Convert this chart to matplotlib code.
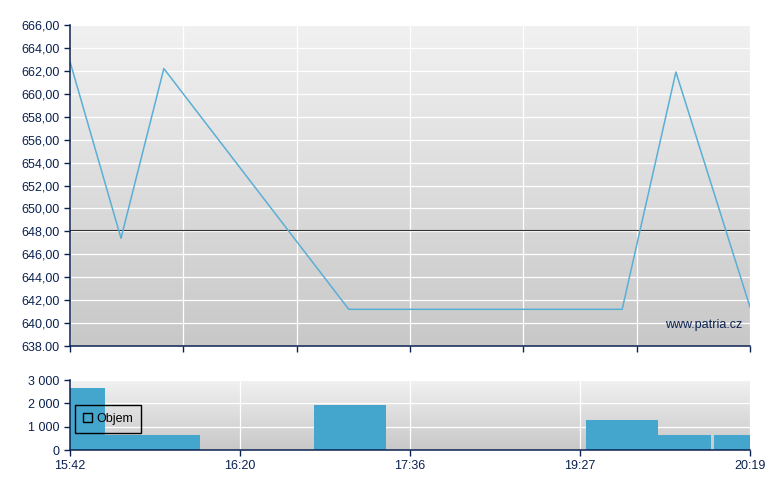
import numpy as np
from matplotlib import pyplot as plt
from matplotlib.patches import Patch
from matplotlib.colors import LinearSegmentedColormap

plt.rcParams['font.family'] = ['Liberation Sans', 'DejaVu Sans']

# x positions on a 0-100 session scale (chart is not linear in clock time)
priceX = [0, 7.5, 13.8, 41.0, 81.2, 89.1, 100]
priceY = [662.8, 647.4, 662.2, 641.2, 641.2, 661.9, 641.4]
refPrice = 648.1

barLeft = [0, 5.1, 35.9, 75.9, 86.5, 94.7]
barRight = [5.1, 19.1, 46.5, 86.5, 94.3, 100]
barVol = [2650, 650, 1930, 1300, 650, 650]

volTickPos = [0, 25, 50, 75, 100]
volTickLabels = ['15:42', '16:20', '17:36', '19:27', '20:19']
priceTicks = np.arange(638, 667, 2)
priceLabels = ['638.00'] + [('%.2f' % v).replace('.', ',') for v in priceTicks[1:]]
volTicks = [0, 1000, 2000, 3000]
volLabels = ['0', '1 000', '2 000', '3 000']

navy = '#0b2150'
lineColor = '#5aafd5'
barColor = '#45a6cd'
bgMap = LinearSegmentedColormap.from_list('bg', ['#f1f1f1', '#c8c8c8'])

fig = plt.figure(figsize=(7.8, 4.9), dpi=100)
axTop = fig.add_axes([70/780, 1-346/490, 680/780, 321/490])
axBot = fig.add_axes([70/780, 1-450/490, 680/780, 70/490])


def gradient(ax, ylo, yhi):
    g = np.linspace(0, 1, 256).reshape(-1, 1)
    ax.imshow(g, extent=[0, 100, ylo, yhi], aspect='auto', cmap=bgMap,
              origin='upper', zorder=0)


def style(ax):
    for s in ['top', 'right']:
        ax.spines[s].set_visible(False)
    for s in ['left', 'bottom']:
        ax.spines[s].set_color(navy)
        ax.spines[s].set_linewidth(1.1)
        ax.spines[s].set_zorder(6)
    ax.tick_params(colors=navy, labelcolor=navy, labelsize=9, length=4, width=1)
    ax.set_axisbelow(True)
    ax.grid(True, color='white', linewidth=0.9)


# price chart
gradient(axTop, 638, 666)
axTop.plot(priceX, priceY, color=lineColor, linewidth=1.1, zorder=3)
axTop.axhline(refPrice, color='#333333', linewidth=0.8, zorder=2)
axTop.set_xlim(0, 100)
axTop.set_ylim(638, 666)
axTop.set_yticks(priceTicks)
axTop.set_yticklabels(priceLabels)
axTop.set_xticks(np.linspace(0, 100, 7))
axTop.set_xticklabels([])
style(axTop)
axTop.text(98.9, 639.8, 'www.patria.cz', color=navy, fontsize=9, ha='right', va='center', zorder=4)

# volume chart
gradient(axBot, 0, 3000)
widths = [r - l for l, r in zip(barLeft, barRight)]
axBot.bar(barLeft, barVol, width=widths, align='edge', color=barColor, zorder=3)
axBot.set_xlim(0, 100)
axBot.set_ylim(0, 3000)
axBot.set_yticks(volTicks)
axBot.set_yticklabels(volLabels)
axBot.set_xticks(volTickPos)
axBot.set_xticklabels(volTickLabels)
style(axBot)
leg = axBot.legend(handles=[Patch(facecolor='none', edgecolor='black', label='Objem')],
                   loc='lower left', bbox_to_anchor=(0.007, 0.24), fontsize=9,
                   handlelength=0.7, handleheight=0.7, borderpad=0.65, fancybox=False,
                   framealpha=1, facecolor='none', edgecolor='black', handletextpad=0.35,
                   borderaxespad=0)
leg.get_frame().set_linewidth(1)
leg.set_zorder(5)

fig.savefig('out.png', dpi=100)
